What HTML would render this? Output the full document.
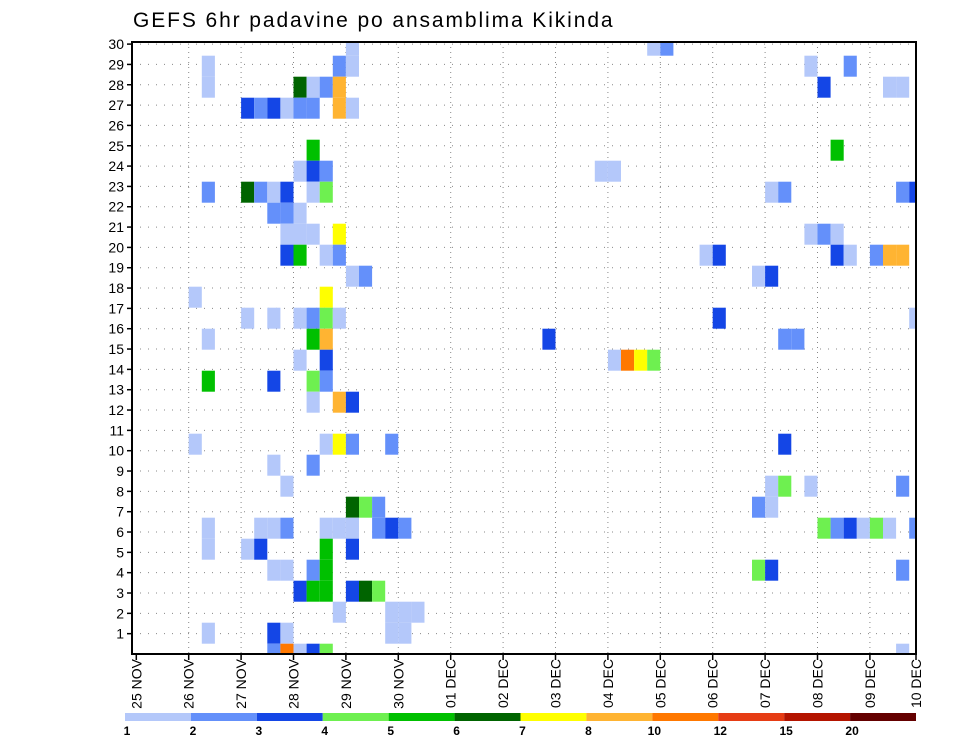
<!DOCTYPE html>
<html><head><meta charset="utf-8"><style>
html,body{margin:0;padding:0;background:#fff;}
svg{display:block;font-family:"Liberation Sans",sans-serif;}
</style></head><body>
<svg id="chart" width="960" height="742" viewBox="0 0 960 742" xmlns="http://www.w3.org/2000/svg">
<text x="133" y="27" font-size="21" letter-spacing="1.9" fill="#000">GEFS 6hr padavine po ansamblima Kikinda</text>
<defs><clipPath id="plotclip"><rect x="132" y="42" width="784" height="612"/></clipPath></defs>
<g id="grid"></g>
<g id="cells" clip-path="url(#plotclip)"></g>
<rect x="132" y="42" width="784" height="612" fill="none" stroke="#000" stroke-width="2"/>
<g id="axes"></g>
<g id="colorbar"></g>
</svg>
<script>
const xTickLabels = ["25 NOV","26 NOV","27 NOV","28 NOV","29 NOV","30 NOV","01 DEC","02 DEC","03 DEC","04 DEC","05 DEC","06 DEC","07 DEC","08 DEC","09 DEC","10 DEC"];
const yTickLabels = [1,2,3,4,5,6,7,8,9,10,11,12,13,14,15,16,17,18,19,20,21,22,23,24,25,26,27,28,29,30];
const levels = [1,2,3,4,5,6,7,8,10,12,15,20];
const levelColors = ["#b4c8fa","#6490fa","#1446e6","#6ef050","#00c000","#006400","#ffff00","#ffb432","#ff7800","#e63c14","#b41400","#640000"];
// cell data: 6-hourly step index, ensemble member row, precipitation (mm)
const cols = [16,39,40, 5,15,16,51,54, 5,12,13,14,15,52,57,58, 8,9,10,11,12,13,15,16, 13,53, 12,13,14,35,36, 5,8,9,10,11,13,14,48,49,58,59, 10,11,12, 11,12,13,15,51,52,53, 11,12,14,15,43,44,53,54,56,57,58, 16,17,47,48, 4,14, 8,10,12,13,14,15,44,59, 5,13,14,31,49,50, 12,14,36,37,38,39, 5,10,13,14, 13,15,16, 4,14,15,16,19,49, 10,13, 11,48,49,51,58, 16,17,18,47,48, 5,9,10,11,14,15,16,18,19,20,52,53,54,55,56,57,59, 5,8,9,14,16, 10,11,13,14,47,48,58, 12,13,14,16,17,18, 15,19,20,21, 5,10,11,19,20, 10,11,12,13,14,58];
const members = [29,29,29, 28,28,28,28,28, 27,27,27,27,27,27,27,27, 26,26,26,26,26,26,26,26, 24,24, 23,23,23,23,23, 22,22,22,22,22,22,22,22,22,22,22, 21,21,21, 20,20,20,20,20,20,20, 19,19,19,19,19,19,19,19,19,19,19, 18,18,18,18, 17,17, 16,16,16,16,16,16,16,16, 15,15,15,15,15,15, 14,14,14,14,14,14, 13,13,13,13, 12,12,12, 10,10,10,10,10,10, 9,9, 8,8,8,8,8, 7,7,7,7,7, 6,6,6,6,6,6,6,6,6,6,6,6,6,6,6,6,6, 5,5,5,5,5, 4,4,4,4,4,4,4, 3,3,3,3,3,3, 2,2,2,2, 1,1,1,1,1, 0,0,0,0,0,0];
const values = [1.5,1.5,2.5, 1.5,2.5,1.5,1.5,2.5, 1.5,6.5,1.5,2.5,9,3.5,1.5,1.5, 3.5,2.5,3.5,1.5,2.5,2.5,9,1.5, 5.5,5.5, 1.5,3.5,2.5,1.5,1.5, 2.5,6.5,2.5,1.5,3.5,1.5,4.5,1.5,2.5,2.5,3.5, 2.5,2.5,1.5, 1.5,1.5,1.5,7.5,1.5,2.5,1.5, 3.5,5.5,1.5,2.5,1.5,3.5,3.5,1.5,2.5,9,9, 1.5,2.5,1.5,3.5, 1.5,7.5, 1.5,1.5,1.5,2.5,4.5,1.5,3.5,1.5, 1.5,5.5,9,3.5,2.5,2.5, 1.5,3.5,1.5,11,7.5,4.5, 5.5,3.5,4.5,2.5, 1.5,9,3.5, 1.5,1.5,7.5,2.5,2.5,3.5, 1.5,2.5, 1.5,1.5,4.5,1.5,2.5, 6.5,4.5,2.5,2.5,1.5, 1.5,1.5,1.5,2.5,1.5,1.5,1.5,2.5,3.5,2.5,4.5,2.5,3.5,1.5,4.5,1.5,2.5, 1.5,1.5,3.5,5.5,3.5, 1.5,1.5,2.5,5.5,4.5,3.5,2.5, 3.5,5.5,5.5,3.5,6.5,4.5, 1.5,1.5,1.5,1.5, 1.5,3.5,1.5,1.5,1.5, 2.5,11,1.5,3.5,4.5,1.5];

const NS = "http://www.w3.org/2000/svg";
const PL = 132, PR = 916, PT = 42, PB = 654;
const X0 = 136.3, STEP = 13.1;
function xScale(step){ return X0 + step * STEP; }
function yLabel(k){ return PB - k * 20.33; }
function yCell(m){ return 633.2 - 21 * (m - 1); }
function colorFor(v){ let idx = 0; for(let i=0;i<levels.length;i++){ if(v>=levels[i]) idx=i; } return levelColors[idx]; }
function mk(tag, attrs, parent){ const e=document.createElementNS(NS,tag); for(const k in attrs) e.setAttribute(k,attrs[k]); parent.appendChild(e); return e; }

const grid = document.getElementById('grid');
const axes = document.getElementById('axes');
const cellsG = document.getElementById('cells');
const cb = document.getElementById('colorbar');

for(let d=1; d<xTickLabels.length-1; d++){
  const x = xScale(d*4);
  const l = mk('line',{x1:x,y1:PT,x2:x,y2:PB,stroke:'#888','stroke-width':1,'stroke-dasharray':'1,4'},grid);
  
  
}
for(let k=0;k<yTickLabels.length;k++){
  const y = yLabel(yTickLabels[k]);
  const l = mk('line',{x1:PL,y1:y,x2:PR,y2:y,stroke:'#888','stroke-width':1,'stroke-dasharray':'1,7'},grid);
  
  
}

for(let i=0;i<cols.length;i++){
  const r = mk('rect',{x:xScale(cols[i]),y:yCell(members[i])-10.5,width:STEP,height:21,fill:colorFor(values[i])},cellsG);
  
  
}

for(let k=0;k<yTickLabels.length;k++){
  const y = yLabel(yTickLabels[k]);
  const t = mk('line',{x1:PL-5,y1:y,x2:PL,y2:y,stroke:'#000','stroke-width':1.5},axes);
  
  
  const tx = mk('text',{x:PL-8,y:y+5,'font-size':14,'text-anchor':'end',fill:'#000'},axes);
  tx.textContent = yTickLabels[k];
  
  
}
for(let d=0; d<xTickLabels.length; d++){
  const x = Math.min(xScale(d*4), PR);
  const t = mk('line',{x1:x,y1:PB,x2:x,y2:PB+6,stroke:'#000','stroke-width':1.5},axes);
  
  
  const tx = mk('text',{x:0,y:0,'font-size':14,'text-anchor':'end',fill:'#000',transform:`translate(${x+5},${PB+5}) rotate(-90)`},axes);
  tx.textContent = xTickLabels[d];
  
  
}

const CB0 = 125, CBW = (916-125)/levels.length;
for(let i=0;i<levels.length;i++){
  const r = mk('rect',{x:CB0+i*CBW,y:713,width:CBW,height:8,fill:levelColors[i]},cb);
  
  
  const tx = mk('text',{x:CB0+i*CBW+2,y:735,'font-size':12,'font-weight':'bold','text-anchor':'middle',fill:'#000'},cb);
  tx.textContent = levels[i];
  
  
}
</script>
</body></html>
